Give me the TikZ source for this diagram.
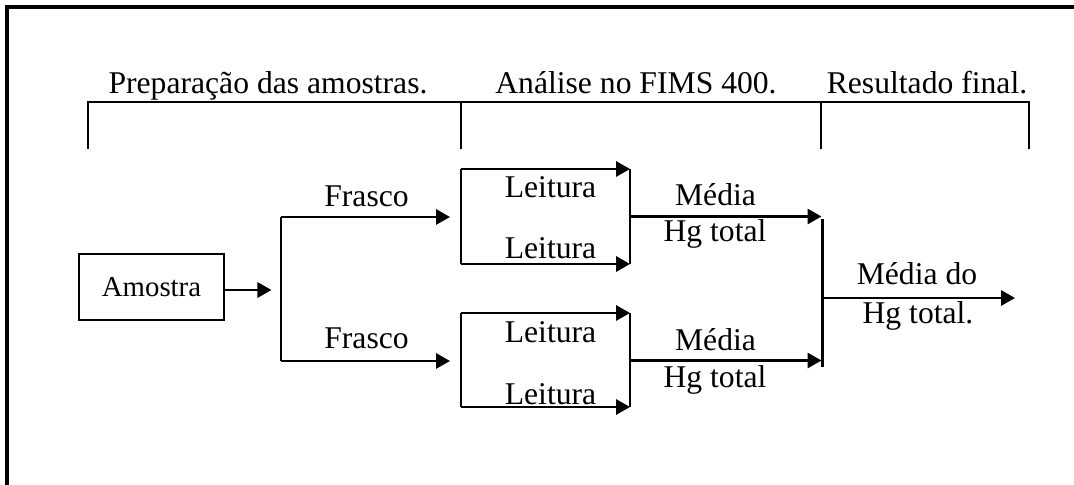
\documentclass[tikz,border=0pt]{standalone}
\usepackage{fontspec}
\setmainfont{Liberation Serif}
\usetikzlibrary{arrows.meta}
\tikzset{
	lbl/.style = {anchor = base, inner sep = 0pt, font = \fontsize{22.5}{27}\selectfont},
	amostrabox/.style = {draw, line width = 1.8pt, minimum width = 3.625cm, minimum height = 1.65cm, inner sep = 0pt, font = \fontsize{20.5}{24}\selectfont},
	ln/.style = {line width = 1.8pt},
	arr/.style = {ln, -{Triangle[length = 3.5mm, width = 3.8mm]}}
}
\begin{document}
\begin{tikzpicture}[x = 0.025cm, y = -0.025cm]
		\useasboundingbox (0, 0) rectangle (1074, 485);
		\draw[line width = 2.2pt] (1080, 7) -- (7, 7) -- (7, 490);
		%%%%%%%%% etapas
		\node[lbl] (prep) at (268, 94) {Preparação das amostras.};
		\node[lbl] (anal) at (636, 94) {Análise no FIMS 400.};
		\node[lbl] (res) at (927, 94) {Resultado final.};
		\coordinate (e1) at (88, 102);
		\coordinate (e2) at (461, 102);
		\coordinate (e3) at (821, 102);
		\coordinate (e4) at (1029, 102);
		\draw[ln] (88, 149) -- (e1) -- (e4) -- (1029, 149);
		\draw[ln] (e2) -- (461, 149);
		\draw[ln] (e3) -- (821, 149);
		%%%%%%%%% amostra e frascos
		\node[amostrabox] (amostra) at (151.5, 287) {Amostra};
		\coordinate (fork) at (281, 290);
		\coordinate (forkA) at (281, 217);
		\coordinate (forkB) at (281, 361);
		\draw[arr] (amostra.east |- fork) -- (271.5, 290);
		\draw[ln] (forkA) -- (forkB);
		\draw[arr] (forkA) -- (450, 217);
		\draw[arr] (forkB) -- (450, 361);
		\node[lbl] (frasco1) at (366.5, 207) {Frasco};
		\node[lbl] (frasco2) at (366.5, 349) {Frasco};
		%%%%%%%%% leituras
		\coordinate (g1nw) at (461, 169);
		\coordinate (g1ne) at (630, 169);
		\coordinate (g1sw) at (461, 264);
		\coordinate (g1se) at (630, 264);
		\draw[ln] (g1nw) -- (g1sw);
		\draw[arr] (g1nw) -- (g1ne);
		\draw[arr] (g1sw) -- (g1se);
		\draw[ln] (g1ne) -- (g1se);
		\node[lbl] (leit1) at (550.5, 198) {Leitura};
		\node[lbl] (leit2) at (550.5, 259) {Leitura};
		\coordinate (g2nw) at (461, 313);
		\coordinate (g2ne) at (630, 313);
		\coordinate (g2sw) at (461, 407);
		\coordinate (g2se) at (630, 407);
		\draw[ln] (g2nw) -- (g2sw);
		\draw[arr] (g2nw) -- (g2ne);
		\draw[arr] (g2sw) -- (g2se);
		\draw[ln] (g2ne) -- (g2se);
		\node[lbl] (leit3) at (550.5, 343) {Leitura};
		\node[lbl] (leit4) at (550.5, 404) {Leitura};
		%%%%%%%%% medias
		\coordinate (media1) at (630, 216.5);
		\coordinate (media2) at (630, 360.5);
		\coordinate (finA) at (822.5, 219);
		\coordinate (finB) at (822.5, 367);
		\coordinate (fin) at (822.5, 298);
		\draw[arr] (media1) -- (821.5, 216.5);
		\draw[arr] (media2) -- (821.5, 360.5);
		\draw[ln] (finA) -- (finB);
		\node[lbl] (med1) at (715.5, 206) {Média};
		\node[lbl] (hg1) at (715, 242) {Hg total};
		\node[lbl] (med2) at (715.5, 351) {Média};
		\node[lbl] (hg2) at (715, 388) {Hg total};
		%%%%%%%%% resultado
		\draw[arr] (fin) -- (1015, 298);
		\node[lbl] (medfin) at (917, 285) {Média do};
		\node[lbl] (hgfin) at (918, 323) {Hg total.};
	\end{tikzpicture}
\end{document}
